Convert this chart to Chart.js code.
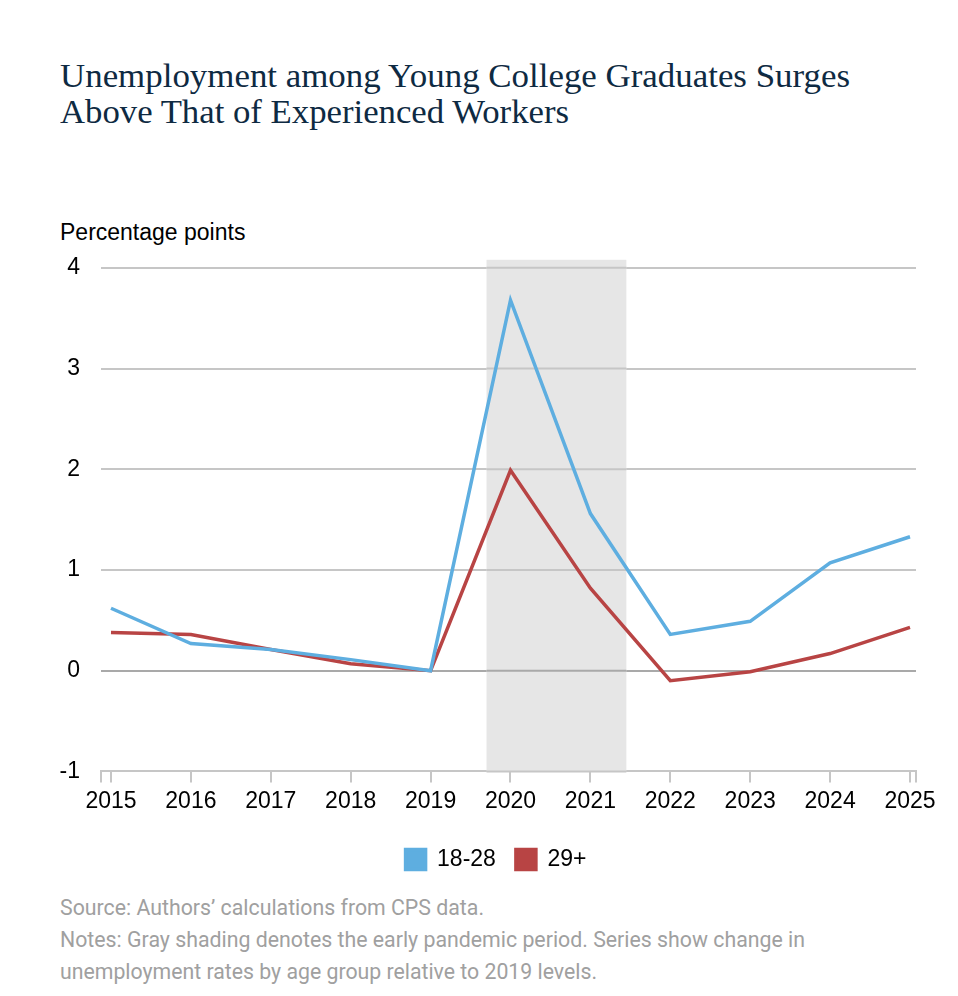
<!DOCTYPE html>
<html>
<head>
<meta charset="utf-8">
<script src="https://cdn.jsdelivr.net/npm/chart.js@4.4.1/dist/chart.umd.min.js"></script>
<style>
  html, body { margin:0; padding:0; background:#fff; }
  body { width:958px; height:996px; position:relative; overflow:hidden; }
  .title { position:absolute; left:60px; top:58px; font-family:"Liberation Serif", serif; color:#0e2a42; font-size:33px; line-height:36px; white-space:nowrap; }
  .title div { transform-origin:left top; }
  .ylab { position:absolute; left:60px; top:219px; font-family:"Liberation Sans", Arial, sans-serif; font-size:23px; color:#000; white-space:nowrap; }
  .chartbox { position:absolute; left:0; top:225px; width:958px; height:656px; }
  .notes { position:absolute; left:60px; top:892px; font-family:Roboto, sans-serif; font-size:22px; line-height:32px; color:#a0a0a0; white-space:nowrap; }
  .notes div { transform-origin:left top; }
</style>
</head>
<body>
<div class="title">
  <div data-w="790">Unemployment among Young College Graduates Surges</div>
  <div data-w="509">Above That of Experienced Workers</div>
</div>
<div class="ylab">Percentage points</div>
<div class="chartbox"><canvas id="c"></canvas></div>
<div class="notes">
  <div data-w="424">Source: Authors’ calculations from CPS data.</div>
  <div data-w="745">Notes: Gray shading denotes the early pandemic period. Series show change in</div>
  <div data-w="537">unemployment rates by age group relative to 2019 levels.</div>
</div>
<script>
// ---- data ----
const years = [2015, 2016, 2017, 2018, 2019, 2020, 2021, 2022, 2023, 2024, 2025];
const young = [0.62, 0.27, 0.21, 0.11, 0.00, 3.68, 1.56, 0.36, 0.49, 1.07, 1.33];
const older = [0.38, 0.36, 0.21, 0.07, 0.00, 1.99, 0.82, -0.10, -0.01, 0.17, 0.43];
const seriesNames = ["18-28", "29+"];
const yTicks = [-1, 0, 1, 2, 3, 4];
const shadeStart = 2019.7;
const shadeEnd = 2021.45;
const shadeTop = 4.08;

// fit text widths
document.querySelectorAll('[data-w]').forEach(el => {
  const r = document.createRange(); r.selectNodeContents(el);
  const w = r.getBoundingClientRect().width;
  const target = +el.dataset.w;
  el.style.transform = 'scaleX(' + (target / w) + ')';
});

const shadePlugin = {
  id: 'shade',
  beforeDatasetsDraw(chart) {
    const {ctx, scales:{x, y}} = chart;
    const x0 = x.getPixelForValue(shadeStart), x1 = x.getPixelForValue(shadeEnd);
    const y0 = y.getPixelForValue(shadeTop), y1 = y.getPixelForValue(-1);
    ctx.save();
    ctx.fillStyle = '#e6e6e6';
    ctx.fillRect(x0, y0, x1 - x0, y1 - y0);
    yTicks.forEach(v => {
      const py = y.getPixelForValue(v);
      ctx.strokeStyle = v === 0 ? '#a9a9a9' : '#c6c6c6';
      ctx.lineWidth = 2;
      ctx.beginPath(); ctx.moveTo(x0, py); ctx.lineTo(x1, py); ctx.stroke();
    });
    ctx.restore();
  }
};

const legendShift = {
  id: 'legendShift',
  afterLayout(chart) {
    if (chart.legend) { chart.legend.left += 38; chart.legend.right += 38; }
  }
};

const xMin = 2015 - 0.125, xMax = 2025 + 0.075;

new Chart(document.getElementById('c'), {
  type: 'line',
  data: {
    datasets: [
      { label: seriesNames[0], data: years.map((yr, i) => ({x: yr, y: young[i]})), borderColor: '#5eaee0', backgroundColor: '#5eaee0', borderWidth: 3.5, pointRadius: 0, tension: 0 },
      { label: seriesNames[1], data: years.map((yr, i) => ({x: yr, y: older[i]})), borderColor: '#b84444', backgroundColor: '#b84444', borderWidth: 3.5, pointRadius: 0, tension: 0 }
    ]
  },
  options: {
    responsive: true,
    maintainAspectRatio: false,
    animation: false,
    layout: { padding: { left: 0, right: 42, top: 19, bottom: 0 } },
    plugins: {
      legend: {
        position: 'bottom',
        labels: { boxWidth: 20, boxHeight: 20, padding: 20, color: '#000', font: { family: 'Liberation Sans', size: 23 } }
      },
      tooltip: { enabled: false }
    },
    scales: {
      x: {
        type: 'linear', min: xMin, max: xMax,
        afterBuildTicks: s => { s.ticks = [xMin, ...years, xMax].map(v => ({value: v})); },
        afterFit: s => { s.height += 8; },
        ticks: { autoSkip: false, maxRotation: 0, color: '#000', font: { family: 'Liberation Sans', size: 23 }, padding: 5,
                 callback: v => Number.isInteger(v) ? String(v) : '' },
        grid: { drawOnChartArea: false, drawTicks: true, tickLength: 11, color: '#c6c6c6', lineWidth: 2 },
        border: { display: true, color: '#c6c6c6', width: 2 }
      },
      y: {
        min: -1, max: shadeTop,
        afterBuildTicks: s => { s.ticks = yTicks.map(v => ({value: v})); },
        afterFit: s => { s.width = 101; },
        ticks: { color: '#000', font: { family: 'Liberation Sans', size: 23 }, padding: 21 },
        grid: { drawTicks: false, color: c => c.tick && c.tick.value === 0 ? '#a9a9a9' : '#c6c6c6', lineWidth: 2 },
        border: { display: false }
      }
    }
  },
  plugins: [shadePlugin, legendShift]
});
</script>
</body>
</html>
